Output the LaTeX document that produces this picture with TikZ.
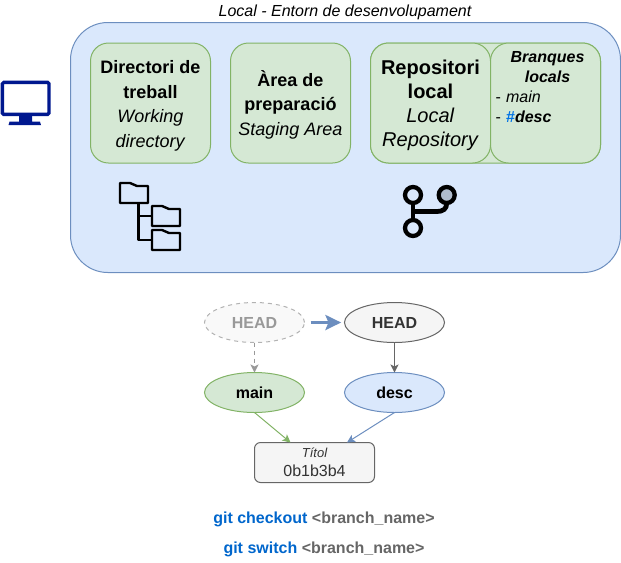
\documentclass[tikz,border=0pt]{standalone}
\usepackage{fontspec}
\setmainfont{Liberation Sans}
\usepackage{xcolor}
\usetikzlibrary{arrows.meta,calc,shapes.geometric}
\definecolor{greenfill}{HTML}{D5E8D4}
\definecolor{greenline}{HTML}{82B366}
\definecolor{bluefill}{HTML}{DAE8FC}
\definecolor{blueline}{HTML}{6C8EBF}
\definecolor{greyfill}{HTML}{F5F5F5}
\definecolor{greyline}{HTML}{666666}
\definecolor{cmdblue}{HTML}{0066CC}
\definecolor{hashblue}{HTML}{0073E6}
\definecolor{screenblue}{HTML}{00188F}
\definecolor{commitgrey}{HTML}{B0BCCC}
\newcommand{\bigfont}{\fontsize{13.5}{18.4}\selectfont}
\newcommand{\repofont}{\fontsize{15}{18}\selectfont}
\newcommand{\midfont}{\fontsize{12}{14.6}\selectfont}
\newcommand{\smallfont}{\fontsize{9.75}{12}\selectfont}
\tikzset{
  greenbox/.style={draw=greenline, fill=greenfill, rounded corners=13.5pt, line width=0.75pt,
    minimum height=90pt, outer sep=0pt},
  boxtext/.style={align=center, inner sep=0pt, font=\bigfont},
  headnode/.style={ellipse, line width=0.75pt, minimum width=75pt, minimum height=30pt,
    inner sep=0pt, outer sep=0pt, font=\midfont\bfseries},
  cmdnode/.style={font=\midfont\bfseries, text=greyline, inner sep=0pt},
  smallarrow/.style={-{Stealth[length=6pt, width=6pt, inset=1.5pt]}, line width=0.75pt},
  folderline/.style={line width=1.8pt, line join=round}
}
\begin{document}
\begin{tikzpicture}[x=0.75pt, y=-0.75pt]
  \useasboundingbox (0,0) rectangle (621,562);

  % Local environment
  \node[draw=blueline, fill=bluefill, rounded corners=28pt, line width=0.75pt, minimum width=412.5pt,
    minimum height=187.5pt, outer sep=0pt] (entorn) at (345.5,147.5) {};
  \node[font=\midfont\itshape, inner sep=0pt] (entorntitle) at (345,12.5) {Local - Entorn de desenvolupament};

  % Working directory and staging area
  \node[greenbox, minimum width=90pt] (directori) at (150.5,103) {};
  \node[boxtext] (directoritext) at ($(directori.center)+(0,3)$) {\textbf{Directori de}\\\textbf{treball}\\\textit{Working}\\\textit{directory}};
  \node[greenbox, minimum width=90pt] (preparacio) at (290.5,103) {};
  \node[boxtext] (preparaciotext) at ($(preparacio.center)+(0,1.5)$) {\textbf{Àrea de}\\\textbf{preparació}\\\textit{Staging Area}};

  % Local repository with its branches
  \node[greenbox, minimum width=172.5pt] (repoback) at (485.5,103) {};
  \node[greenbox, minimum width=90pt] (repositori) at (430.5,103) {};
  \node[boxtext, font=\repofont] (repositoritext) at ($(repositori.center)+(0,2)$) {\textbf{Repositori}\\\textbf{local}\\\textit{Local}\\\textit{Repository}};
  \node[greenbox, minimum width=82.5pt] (branques) at (545.5,103) {};
  \node[anchor=north, text width=78pt, inner sep=0pt, font=\fontsize{12}{15}\selectfont] (branquestext) at (547.5,51.5)
    {{\centering\bfseries\itshape Branques\\locals\par}\raggedright - \textit{main}\\- {\bfseries\color{hashblue}\#}\textbf{\textit{desc}}};

  % Monitor
  \draw[screenblue, line width=2.5pt, fill=white, rounded corners=1pt] (2.4,82.4) rectangle (49,114.4);
  \fill[screenblue] (19,116) -- (32,116) -- (32,121.7) -- (40,121.7) -- (41,125) -- (8.5,125) -- (9.5,121.7) -- (19,121.7) -- cycle;

  % Folders
  \draw[folderline] (138.5,203) -- (138.5,240) -- (152,240);
  \draw[folderline] (138.5,216) -- (152,216);
  \draw[folderline] (120,183) -- ++(10,0) -- ++(7,3) -- ++(11,0) -- ++(0,17) -- ++(-28,0) -- cycle;
  \draw[folderline] (152,206) -- ++(10,0) -- ++(7,3) -- ++(11,0) -- ++(0,17) -- ++(-28,0) -- cycle;
  \draw[folderline] (152,230) -- ++(10,0) -- ++(7,3) -- ++(11,0) -- ++(0,17) -- ++(-28,0) -- cycle;

  % Git branch
  \draw[line width=3.6pt] (413,203) -- (413,220);
  \draw[line width=3.6pt] (413,211.5) -- (437,211.5) .. controls (443,211.5) and (446.7,209) .. (446.7,203);
  \draw[line width=3.2pt] (413,195) circle[radius=8];
  \draw[line width=3.2pt] (413,228) circle[radius=8];
  \draw[line width=3.2pt, fill=commitgrey] (446.7,195) circle[radius=8];

  % HEAD and branches
  \node[headnode, draw=black!30, dashed, fill=greyfill!60, text=black!40] (headold) at (254.5,322.5) {HEAD};
  \node[headnode, draw=greyline, fill=greyfill, text=black!80] (headnew) at (394.5,322.5) {HEAD};
  \node[headnode, draw=greenline, fill=greenfill] (main) at (254.5,392.5) {main};
  \node[headnode, draw=blueline, fill=bluefill] (desc) at (394.5,392.5) {desc};

  % Commit
  \node[draw=greyline, fill=greyfill, rounded corners=4.5pt, line width=0.75pt, minimum width=90pt, minimum height=30pt,
    align=center, text=black!80, inner sep=0pt, outer sep=0pt] (titol) at (314.5,462.5)
    {{\smallfont\itshape Títol}\\[2pt]{\midfont 0b1b3b4}};
  \coordinate (titolleft) at (290.5,442.5);
  \coordinate (titolright) at (347,442.5);

  % Arrows
  \draw[smallarrow, black!40, dashed] (headold) -- (main);
  \draw[smallarrow, greyline] (headnew) -- (desc);
  \draw[-{Stealth[length=11.8pt, width=11.25pt, inset=2.3pt]}, blueline, line width=2.25pt, shorten <=4.5pt, shorten >=2.5pt] (headold) -- (headnew);
  \draw[smallarrow, greenline] (main.south) -- (titolleft);
  \draw[smallarrow, blueline] (desc.south) -- (titolright);

  % Commands
  \node[cmdnode] (checkout) at (324,519) {\textcolor{cmdblue}{git checkout} <branch\_name>};
  \node[cmdnode] (switch) at (324,549) {\textcolor{cmdblue}{git switch} <branch\_name>};
\end{tikzpicture}
\end{document}
